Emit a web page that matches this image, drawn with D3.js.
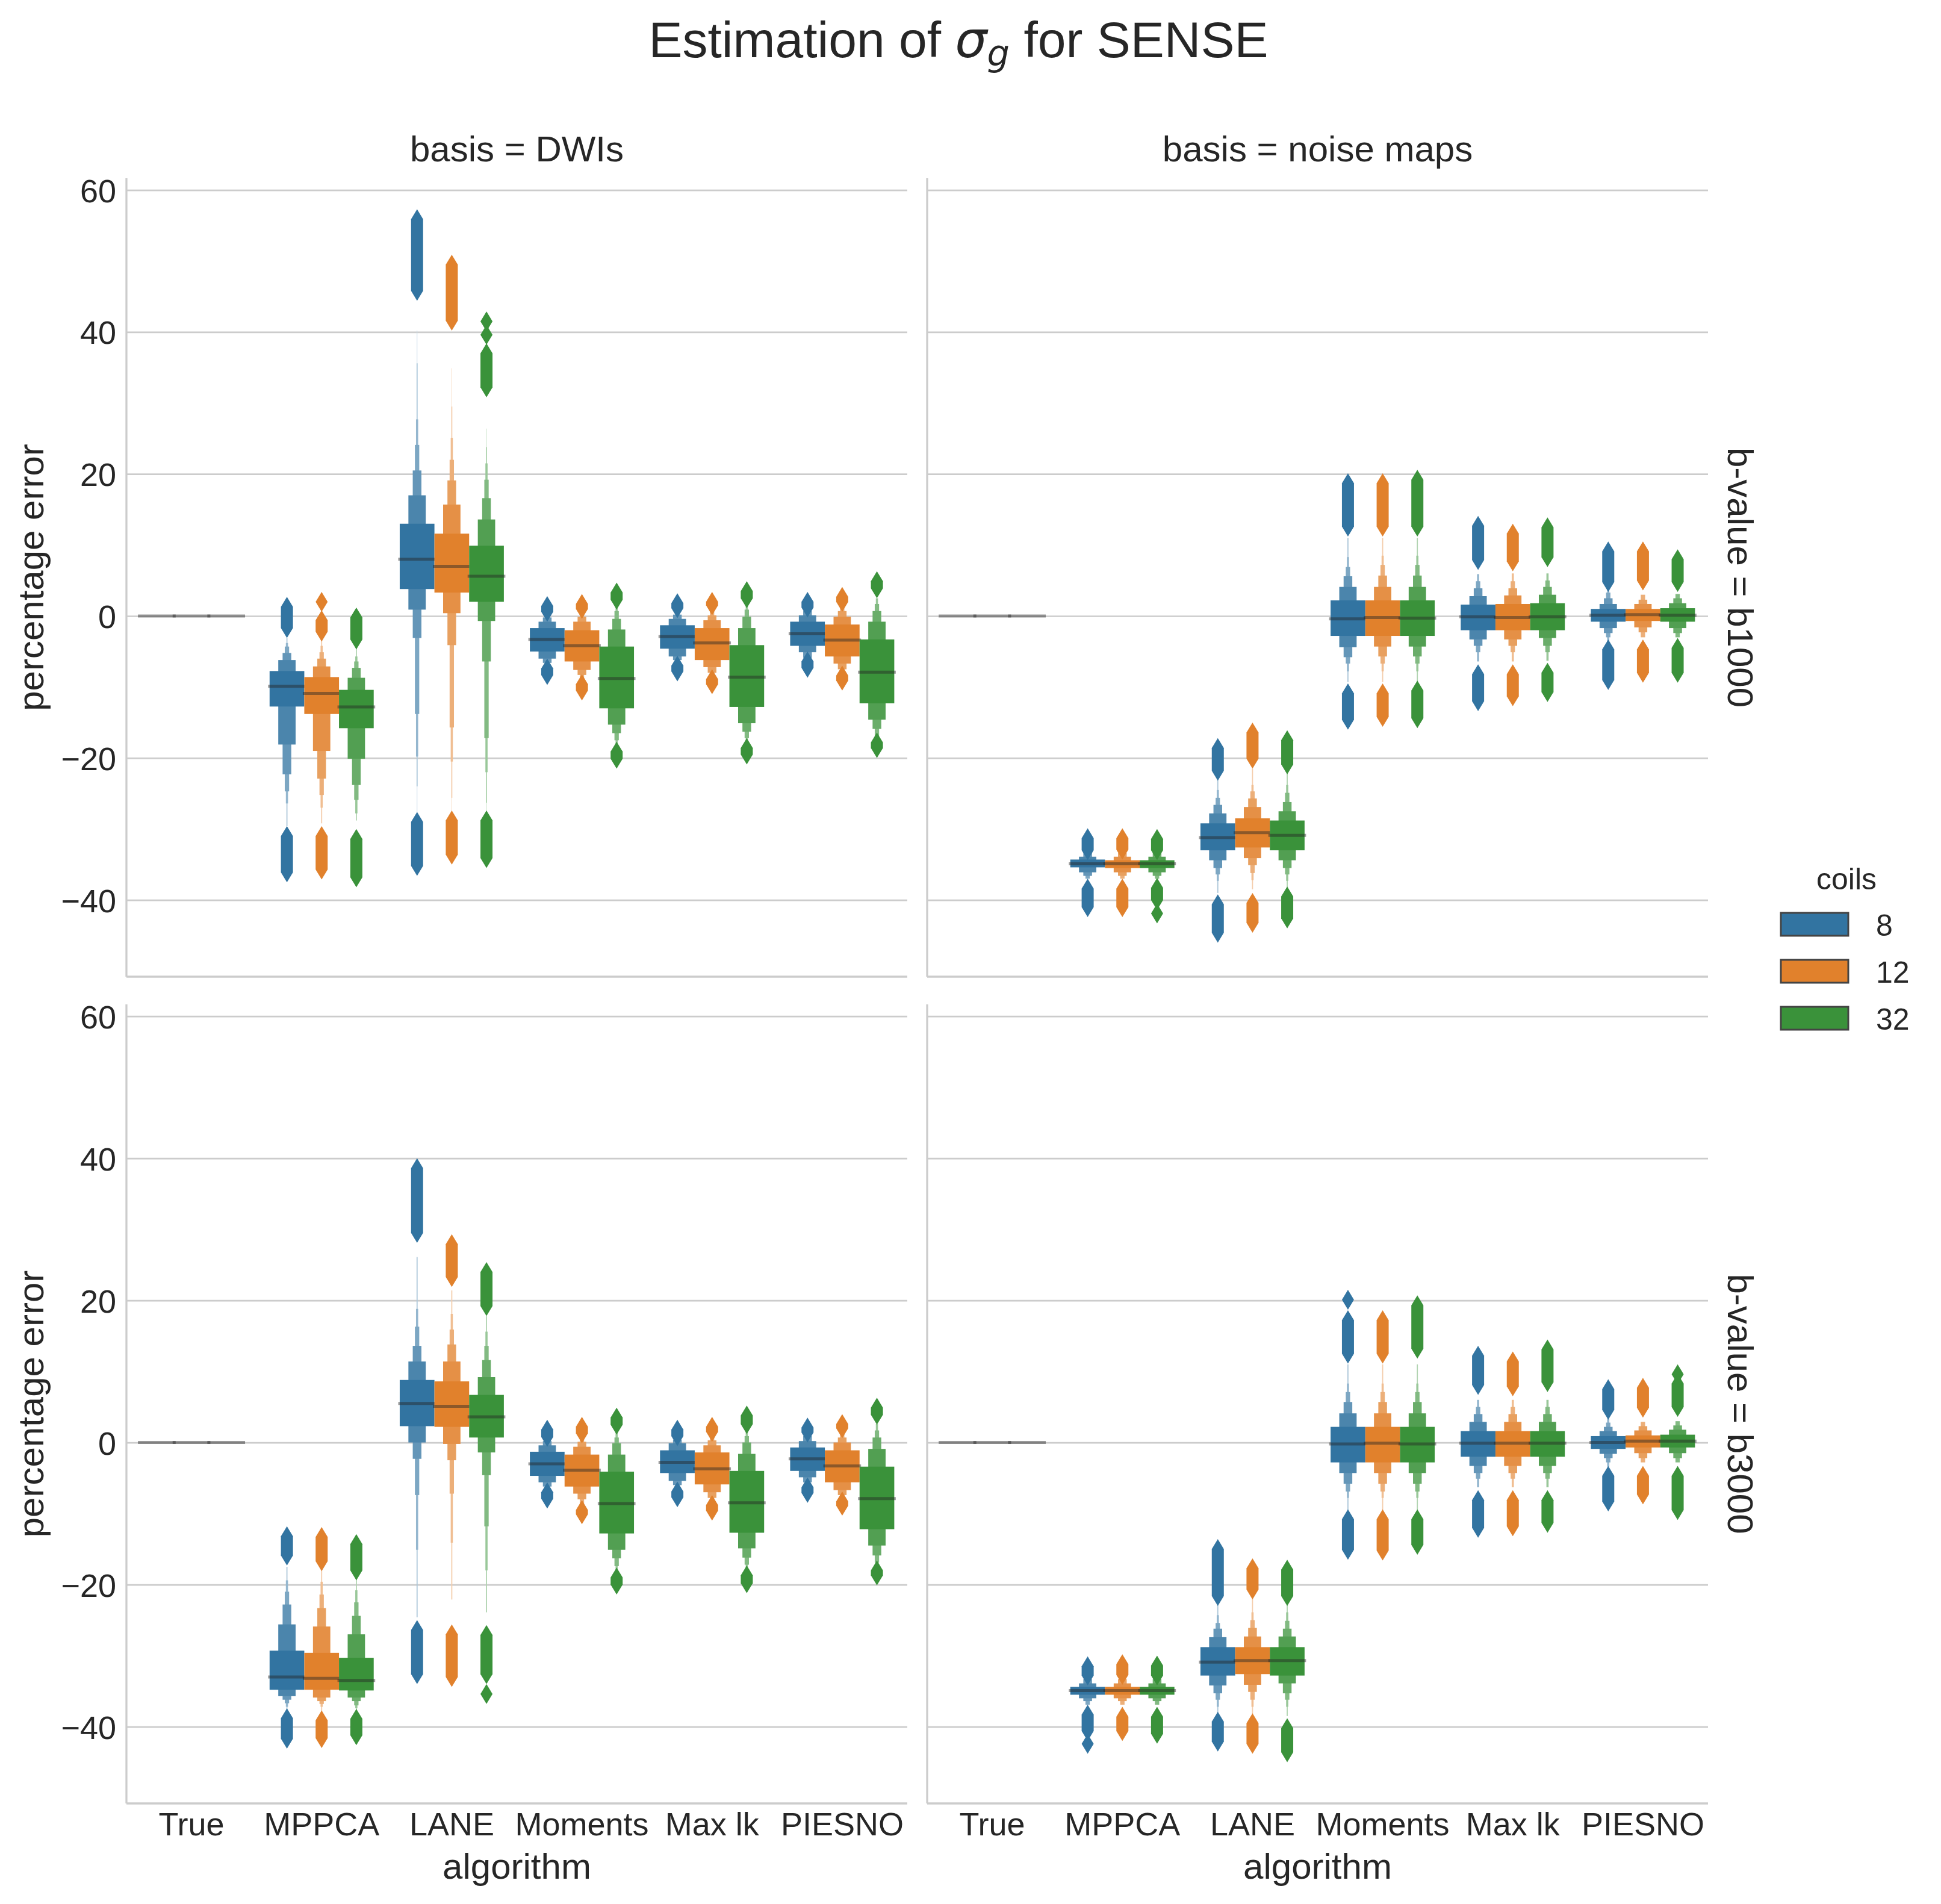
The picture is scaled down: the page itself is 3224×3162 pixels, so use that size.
<!DOCTYPE html>
<html>
<head>
<meta charset="utf-8">
<script src="https://d3js.org/d3.v7.min.js"></script>
<style>
  body { margin: 0; background: #fff; }
  text { font-family: "Liberation Sans", Arial, sans-serif; fill: #262626; }
</style>
</head>
<body>
<div id="chart"></div>
<script>
// categories
const algorithms = ["True", "MPPCA", "LANE", "Moments", "Max lk", "PIESNO"]
const coils = ["8", "12", "32"]
const bases = ["DWIs", "noise maps"]
const bvalues = ["b1000", "b3000"]
const yTicks = [-40, -20, 0, 20, 40, 60]
const yDomain = [-50.8, 61.66]

// one row per box: [algorithm, coils, median, letter values (inner -> outer) as [lo, hi], outlier clusters [lo, hi]]
const dwi_b1000 = [
  ["True", "8", 0, [[0, 0]], []],
  ["True", "12", 0, [[0, 0]], []],
  ["True", "32", 0, [[0, 0]], []],
  ["MPPCA", "8", -9.9, [[-12.75, -7.75], [-18.1, -6.2], [-22.3, -5.2], [-24.7, -4.3], [-26.4, -3.8], [-29.6, -3.1]], [[-1.7, 1.3], [-36.1, -31.0]]],
  ["MPPCA", "12", -10.9, [[-13.8, -8.6], [-19.0, -7.1], [-22.9, -6.0], [-25.2, -5.1], [-27.0, -4.2], [-29.2, -3.5]], [[2.0, 2.0], [-2.2, -0.6], [-35.7, -31.0]]],
  ["MPPCA", "32", -12.8, [[-15.8, -10.4], [-20.1, -8.7], [-23.8, -7.3], [-25.9, -6.4], [-27.8, -5.7], [-28.8, -4.6]], [[-3.3, -0.2], [-36.8, -31.4]]],
  ["LANE", "8", 8.0, [[3.8, 13.0], [0.9, 17.0], [-3.1, 20.5], [-13.8, 24.1], [-19.8, 27.7], [-24.0, 35.6], [-28.0, 40.2]], [[45.8, 55.9], [-35.2, -29.0]]],
  ["LANE", "12", 7.0, [[3.3, 11.6], [0.4, 15.7], [-4.1, 19.1], [-15.7, 22.0], [-20.5, 25.1], [-25.6, 29.5], [-28.0, 34.9]], [[41.6, 49.5], [-33.6, -28.8]]],
  ["LANE", "32", 5.6, [[2.0, 9.9], [-0.7, 13.6], [-6.4, 16.6], [-17.2, 19.2], [-22.0, 21.5], [-26.3, 23.8], [-28.0, 26.4]], [[41.5, 41.5], [39.6, 39.6], [32.2, 37.0], [-34.1, -28.8]]],
  ["Moments", "8", -3.3, [[-5.0, -1.7], [-6.0, -0.8], [-6.6, -0.2], [-7.1, 0.3]], [[0.6, 1.4], [-8.3, -7.4]]],
  ["Moments", "12", -4.2, [[-6.4, -2.0], [-7.6, -0.8], [-8.3, -0.1], [-8.9, 0.5]], [[1.0, 1.7], [-10.5, -9.6]]],
  ["Moments", "32", -8.8, [[-13.0, -4.3], [-15.3, -1.9], [-16.5, -0.4], [-17.5, 0.7], [-18.3, 1.6]], [[2.3, 3.3], [-20.1, -19.1]]],
  ["Max lk", "8", -2.9, [[-4.6, -1.3], [-5.7, -0.4], [-6.2, 0.2], [-6.7, 0.6]], [[1.1, 1.8], [-7.8, -7.0]]],
  ["Max lk", "12", -3.8, [[-6.2, -1.7], [-7.2, -0.6], [-8.0, 0.1], [-8.5, 0.6]], [[1.5, 2.0], [-9.6, -8.9]]],
  ["Max lk", "32", -8.6, [[-12.8, -4.1], [-15.1, -1.7], [-16.3, -0.1], [-17.2, 0.9], [-18.0, 1.6]], [[2.5, 3.5], [-19.5, -18.6]]],
  ["PIESNO", "8", -2.5, [[-4.2, -0.8], [-5.1, 0.1], [-5.9, 0.7], [-6.3, 1.1]], [[1.2, 2.0], [-7.3, -6.4]]],
  ["PIESNO", "12", -3.4, [[-5.7, -1.2], [-6.7, -0.1], [-7.5, 0.7], [-8.0, 1.3]], [[2.0, 2.7], [-9.1, -8.4]]],
  ["PIESNO", "32", -7.9, [[-12.3, -3.3], [-14.6, -0.8], [-15.9, 0.7], [-16.9, 1.7], [-17.5, 2.5]], [[3.9, 4.9], [-18.6, -17.8]]]
]

const noise_b1000 = [
  ["True", "8", 0, [[0, 0]], []],
  ["True", "12", 0, [[0, 0]], []],
  ["True", "32", 0, [[0, 0]], []],
  ["MPPCA", "8", -34.9, [[-35.4, -34.3], [-36.1, -33.9], [-36.6, -33.4], [-37.0, -32.8]], [[-33.0, -31.3], [-41.0, -38.4]]],
  ["MPPCA", "12", -34.9, [[-35.5, -34.4], [-36.1, -33.9], [-36.6, -33.4], [-37.0, -32.9]], [[-32.9, -31.3], [-41.0, -38.4]]],
  ["MPPCA", "32", -34.9, [[-35.5, -34.4], [-36.1, -33.9], [-36.6, -33.4], [-37.0, -32.9]], [[-33.0, -31.4], [-40.0, -38.3], [-41.9, -41.9]]],
  ["LANE", "8", -31.2, [[-33.0, -29.2], [-34.4, -27.8], [-35.5, -26.6], [-36.4, -25.6], [-37.3, -24.5], [-39.0, -22.3]], [[-21.8, -18.6], [-44.6, -40.6]]],
  ["LANE", "12", -30.5, [[-32.6, -28.5], [-34.1, -26.9], [-35.1, -25.7], [-36.2, -24.7], [-37.2, -23.8], [-38.5, -21.5]], [[-20.1, -16.4], [-43.2, -40.4]]],
  ["LANE", "32", -30.9, [[-33.0, -28.8], [-34.4, -27.5], [-35.5, -26.2], [-36.4, -24.9], [-37.3, -23.8], [-38.2, -21.8]], [[-20.9, -17.5], [-42.6, -39.5]]],
  ["Moments", "8", -0.4, [[-2.8, 2.2], [-4.4, 4.1], [-5.8, 5.6], [-6.7, 6.9], [-7.8, 8.3], [-9.3, 11.0]], [[12.6, 18.7], [-14.6, -10.9]]],
  ["Moments", "12", -0.2, [[-2.8, 2.2], [-4.3, 4.1], [-5.7, 5.7], [-6.7, 7.2], [-7.8, 8.5], [-9.3, 11.0]], [[12.6, 18.7], [-14.2, -10.9]]],
  ["Moments", "32", -0.3, [[-2.8, 2.2], [-4.3, 4.1], [-5.7, 5.7], [-6.7, 7.2], [-7.8, 8.5], [-9.3, 11.0]], [[12.6, 19.2], [-14.4, -10.5]]],
  ["Max lk", "8", -0.1, [[-2.0, 1.6], [-3.3, 2.8], [-4.2, 3.9], [-5.1, 4.9], [-6.4, 5.9]], [[7.9, 12.7], [-12.0, -8.2]]],
  ["Max lk", "12", -0.2, [[-2.0, 1.7], [-3.3, 2.9], [-4.2, 3.9], [-5.1, 4.9], [-6.4, 6.0]], [[7.7, 11.6], [-11.3, -8.2]]],
  ["Max lk", "32", -0.1, [[-2.0, 1.8], [-3.1, 3.0], [-4.2, 4.1], [-5.1, 5.0], [-6.3, 6.0]], [[8.3, 12.5], [-10.7, -8.0]]],
  ["PIESNO", "8", 0.1, [[-0.8, 1.0], [-1.7, 1.7], [-2.4, 2.5], [-3.0, 3.3], [-3.8, 4.0]], [[4.8, 9.1], [-9.0, -4.7]]],
  ["PIESNO", "12", 0.2, [[-0.7, 1.0], [-1.6, 1.7], [-2.3, 2.3], [-3.0, 3.0]], [[5.0, 9.1], [-8.0, -4.7]]],
  ["PIESNO", "32", 0.1, [[-0.8, 1.1], [-1.7, 1.8], [-2.4, 2.5], [-3.0, 3.1]], [[4.8, 8.0], [-8.0, -4.5]]]
]

const dwi_b3000 = [
  ["True", "8", 0, [[0, 0]], []],
  ["True", "12", 0, [[0, 0]], []],
  ["True", "32", 0, [[0, 0]], []],
  ["MPPCA", "8", -33.0, [[-34.8, -29.3], [-35.7, -25.6], [-36.2, -22.8], [-36.7, -21.0], [-37.2, -19.4], [-37.8, -17.5]], [[-15.9, -13.2], [-41.7, -38.8]]],
  ["MPPCA", "12", -33.2, [[-34.8, -29.6], [-35.9, -25.9], [-36.4, -23.3], [-36.8, -21.4], [-37.2, -19.6], [-37.8, -18.0]], [[-16.7, -13.3], [-41.6, -39.1]]],
  ["MPPCA", "32", -33.5, [[-34.9, -30.3], [-35.9, -27.0], [-36.4, -24.4], [-37.0, -22.5], [-37.4, -20.8], [-37.9, -19.0]], [[-18.0, -14.3], [-41.2, -38.9]]],
  ["LANE", "8", 5.5, [[2.3, 8.8], [0.0, 11.4], [-2.3, 13.6], [-7.4, 16.3], [-15.1, 18.8], [-24.6, 26.1]], [[29.5, 38.6], [-32.6, -26.4]]],
  ["LANE", "12", 5.1, [[2.2, 8.6], [-0.2, 11.4], [-2.5, 13.8], [-7.2, 15.9], [-14.1, 18.1], [-22.1, 21.4]], [[23.3, 27.9], [-33.0, -27.0]]],
  ["LANE", "32", 3.6, [[0.7, 6.7], [-1.4, 9.2], [-4.6, 11.6], [-11.8, 13.6], [-18.0, 15.6], [-23.9, 17.8]], [[19.2, 24.0], [-32.6, -27.1], [-35.4, -35.4]]],
  ["Moments", "8", -3.0, [[-4.7, -1.3], [-5.6, -0.4], [-6.2, 0.2], [-6.7, 0.6]], [[0.8, 1.8], [-7.9, -7.0]]],
  ["Moments", "12", -3.9, [[-6.2, -1.7], [-7.2, -0.6], [-8.0, 0.1], [-8.6, 0.6]], [[1.3, 2.2], [-10.1, -9.5]]],
  ["Moments", "32", -8.6, [[-12.8, -4.1], [-15.1, -1.7], [-16.3, -0.1], [-17.4, 0.7], [-18.2, 1.5]], [[2.5, 3.5], [-20.0, -19.0]]],
  ["Max lk", "8", -2.8, [[-4.3, -1.1], [-5.4, -0.1], [-6.0, 0.4], [-6.5, 0.8]], [[0.9, 1.8], [-7.7, -6.9]]],
  ["Max lk", "12", -3.7, [[-5.9, -1.4], [-7.0, -0.4], [-7.8, 0.3], [-8.3, 0.8]], [[1.5, 2.2], [-9.6, -8.8]]],
  ["Max lk", "32", -8.5, [[-12.7, -4.0], [-14.9, -1.6], [-16.2, 0.0], [-17.2, 0.9], [-18.0, 1.6]], [[2.6, 3.8], [-19.8, -18.7]]],
  ["PIESNO", "8", -2.3, [[-4.0, -0.7], [-4.9, 0.2], [-5.6, 0.9], [-6.0, 1.2]], [[1.4, 2.1], [-7.1, -6.3]]],
  ["PIESNO", "12", -3.3, [[-5.6, -1.1], [-6.7, 0.0], [-7.4, 0.7], [-7.9, 1.3]], [[2.0, 2.6], [-8.9, -8.3]]],
  ["PIESNO", "32", -7.9, [[-12.2, -3.4], [-14.5, -0.9], [-15.9, 0.7], [-16.9, 1.7], [-17.5, 2.6]], [[3.9, 4.9], [-18.7, -18.0]]]
]

const noise_b3000 = [
  ["True", "8", 0, [[0, 0]], []],
  ["True", "12", 0, [[0, 0]], []],
  ["True", "32", 0, [[0, 0]], []],
  ["MPPCA", "8", -34.9, [[-35.5, -34.4], [-36.0, -33.9], [-36.4, -33.3], [-36.9, -32.8]], [[-32.8, -31.5], [-40.6, -38.3], [-42.4, -42.4]]],
  ["MPPCA", "12", -34.9, [[-35.5, -34.4], [-36.0, -33.9], [-36.4, -33.3], [-36.9, -32.8]], [[-32.7, -31.2], [-40.6, -38.6]]],
  ["MPPCA", "32", -34.9, [[-35.5, -34.4], [-36.0, -33.9], [-36.4, -33.3], [-36.9, -32.8]], [[-32.8, -31.4], [-41.0, -38.6]]],
  ["LANE", "8", -30.9, [[-32.8, -28.8], [-34.2, -27.4], [-35.3, -26.2], [-36.2, -25.4], [-37.2, -24.3], [-38.2, -22.5]], [[-21.6, -15.0], [-42.1, -39.3]]],
  ["LANE", "12", -30.7, [[-32.6, -28.8], [-34.1, -27.3], [-35.1, -26.1], [-36.2, -25.0], [-37.2, -23.9], [-38.2, -22.0]], [[-20.7, -17.7], [-42.4, -39.5]]],
  ["LANE", "32", -30.7, [[-32.8, -28.8], [-33.9, -27.3], [-35.3, -26.2], [-36.2, -25.1], [-37.2, -23.9], [-38.5, -22.2]], [[-21.6, -17.9], [-43.6, -40.2]]],
  ["Moments", "8", -0.2, [[-2.8, 2.2], [-4.3, 4.1], [-5.8, 5.7], [-6.9, 7.1], [-7.8, 8.3], [-9.5, 11.0]], [[20.1, 20.1], [12.5, 17.2], [-15.1, -10.8]]],
  ["Moments", "12", -0.1, [[-2.8, 2.2], [-4.3, 4.1], [-5.8, 5.7], [-6.9, 7.1], [-7.8, 8.3], [-9.5, 11.0]], [[12.5, 17.2], [-15.2, -10.8]]],
  ["Moments", "32", -0.2, [[-2.8, 2.2], [-4.3, 4.1], [-5.8, 5.7], [-6.9, 7.1], [-7.8, 8.3], [-9.5, 11.0]], [[13.2, 19.3], [-14.4, -10.8]]],
  ["Max lk", "8", -0.1, [[-2.0, 1.6], [-3.3, 2.9], [-4.3, 4.0], [-5.1, 5.0], [-6.3, 6.0]], [[8.1, 12.2], [-12.0, -8.1]]],
  ["Max lk", "12", -0.1, [[-2.0, 1.6], [-3.3, 2.9], [-4.3, 4.0], [-5.1, 5.0], [-6.3, 6.0]], [[7.9, 11.4], [-11.8, -8.1]]],
  ["Max lk", "32", -0.1, [[-2.0, 1.6], [-3.3, 2.9], [-4.3, 4.0], [-5.1, 5.0], [-6.3, 6.0]], [[8.5, 13.1], [-11.3, -8.1]]],
  ["PIESNO", "8", 0.0, [[-0.9, 0.9], [-1.6, 1.6], [-2.2, 2.2], [-2.8, 2.8], [-3.4, 3.4]], [[4.6, 7.5], [-8.3, -4.7]]],
  ["PIESNO", "12", 0.2, [[-0.7, 1.0], [-1.5, 1.7], [-2.2, 2.3], [-2.8, 2.9]], [[4.9, 7.7], [-7.3, -4.7]]],
  ["PIESNO", "32", 0.2, [[-0.7, 1.1], [-1.5, 1.8], [-2.2, 2.4], [-2.8, 3.0]], [[9.6, 9.6], [5.0, 8.3], [-9.5, -4.7]]]
]

const coilColors = ["#3274a1", "#e1812c", "#3a923a"]

// figure layout (pixels)
const colX = [[210, 1507], [1540, 2837]]
const rowY = [[296, 1622], [1668, 2995]]
const gridColor = "#cccccc"
const nLevels = 8      // total letter-value boxes, used for the shading ramp
const dHalfW = 10, dHalfH = 16.5   // outlier diamond half sizes

const svg = d3.select("#chart")
  .append("svg")
  .attr("width", 3224)
  .attr("height", 3162)
  .attr("viewBox", "0 0 3224 3162")

svg.append("rect").attr("width", 3224).attr("height", 3162).attr("fill", "#fff")

const palette = d3.scaleOrdinal().domain(coils).range(coilColors)

function drawPanel(data, col, row) {
  const [x0, x1] = colX[col]
  const [y0, y1] = rowY[row]
  const x = d3.scaleBand().domain(algorithms).range([x0, x1])
  const hue = d3.scaleBand().domain(coils).range([0.1 * x.bandwidth(), 0.9 * x.bandwidth()])
  const y = d3.scaleLinear().domain(yDomain).range([y1, y0])
  const g = svg.append("g")

  // horizontal grid lines
  g.append("g")
    .attr("transform", `translate(${x0},0)`)
    .call(d3.axisLeft(y).tickValues(yTicks).tickSize(-(x1 - x0)).tickFormat(""))
    .call(a => a.select(".domain").remove())
    .selectAll("line")
      .attr("stroke", gridColor)
      .attr("stroke-width", 2.7)

  // spines (left + bottom)
  g.append("line").attr("x1", x0).attr("x2", x0).attr("y1", y0).attr("y2", y1)
    .attr("stroke", gridColor).attr("stroke-width", 3.3)
  g.append("line").attr("x1", x0).attr("x2", x1).attr("y1", y1).attr("y2", y1)
    .attr("stroke", gridColor).attr("stroke-width", 3.3)

  if (col == 0) {
    const ya = g.append("g")
      .attr("transform", `translate(${x0},0)`)
      .call(d3.axisLeft(y).tickValues(yTicks).tickSize(0).tickPadding(17))
    ya.select(".domain").remove()
    ya.selectAll("text").attr("font-size", 54).attr("dy", "0.36em")
      .attr("font-family", '"Liberation Sans", Arial, sans-serif')

    g.append("text")
      .attr("transform", `translate(72,${(y0 + y1) / 2}) rotate(-90)`)
      .attr("text-anchor", "middle")
      .attr("font-size", 60)
      .text("percentage error")
  }

  if (row == 1) {
    const xa = g.append("g")
      .attr("transform", `translate(0,${y1})`)
      .call(d3.axisBottom(x).tickSize(0).tickPadding(15))
    xa.select(".domain").remove()
    xa.selectAll("text").attr("font-size", 54)
      .attr("font-family", '"Liberation Sans", Arial, sans-serif')

    g.append("text")
      .attr("x", (x0 + x1) / 2).attr("y", 3120)
      .attr("text-anchor", "middle")
      .attr("font-size", 60)
      .text("algorithm")
  }

  if (row == 0) {
    g.append("text")
      .attr("x", (x0 + x1) / 2).attr("y", 268)
      .attr("text-anchor", "middle")
      .attr("font-size", 60)
      .text("basis = " + bases[col])
  }
  if (col == 1) {
    g.append("text")
      .attr("transform", `translate(2870,${(y0 + y1) / 2}) rotate(90)`)
      .attr("text-anchor", "middle")
      .attr("font-size", 60)
      .text("b-value = " + bvalues[row])
  }

  // letter value boxes
  const w = hue.bandwidth()
  data.forEach(([alg, coil, med, levels, outs]) => {
    const cx = x(alg) + hue(coil) + w / 2
    const base = palette(coil)
    const light = d3.interpolateRgb(base, "#ffffff")(0.85)
    const shade = d3.interpolateRgb(base, light)
    const bg = g.append("g")

    // outermost first so the inner boxes stay on top
    for (let j = levels.length - 1; j >= 0; j--) {
      const [lo, hi] = levels[j]
      if (hi - lo <= 0) continue
      const bw = w / Math.pow(2, j)
      bg.append("rect")
        .attr("x", cx - bw / 2)
        .attr("width", bw)
        .attr("y", y(hi))
        .attr("height", y(lo) - y(hi))
        .attr("fill", shade(j / (nLevels - 1)))
    }

    // outliers: stacks of thin diamonds
    outs.forEach(([lo, hi]) => {
      const yt = y(hi), yb = y(lo)
      const pts = [[cx, yt - dHalfH], [cx + dHalfW, yt], [cx + dHalfW, yb],
        [cx, yb + dHalfH], [cx - dHalfW, yb], [cx - dHalfW, yt]]
      bg.append("path")
        .attr("d", d3.line()(pts) + "Z")
        .attr("fill", base)
    })

    // median
    bg.append("line")
      .attr("x1", cx - w / 2).attr("x2", cx + w / 2)
      .attr("y1", y(med)).attr("y2", y(med))
      .attr("stroke", "rgba(38,38,38,0.45)")
      .attr("stroke-width", 5)
      .attr("stroke-linecap", "square")
  })
}

drawPanel(dwi_b1000, 0, 0)
drawPanel(noise_b1000, 1, 0)
drawPanel(dwi_b3000, 0, 1)
drawPanel(noise_b3000, 1, 1)

// title
const title = svg.append("text")
  .attr("x", 1592).attr("y", 95)
  .attr("text-anchor", "middle")
  .attr("font-size", 84)
title.append("tspan").text("Estimation of ")
title.append("tspan").style("font-family", '"DejaVu Sans"').style("font-style", "italic").text("σ")
title.append("tspan").style("font-family", '"DejaVu Sans"').style("font-style", "italic")
  .attr("font-size", 59).attr("dy", 14).text("g")
title.append("tspan").attr("dy", -14).text(" for SENSE")

// legend
const legend = svg.append("g")
legend.append("text")
  .attr("x", 3067).attr("y", 1477)
  .attr("text-anchor", "middle")
  .attr("font-size", 50)
  .text("coils")
coils.forEach((c, i) => {
  const ly = 1516 + i * 78
  legend.append("rect")
    .attr("x", 2958).attr("y", ly)
    .attr("width", 112).attr("height", 38)
    .attr("fill", palette(c))
    .attr("stroke", "#444444")
    .attr("stroke-width", 3)
  legend.append("text")
    .attr("x", 3116).attr("y", ly + 38)
    .attr("font-size", 50)
    .text(c)
})
</script>
</body>
</html>
